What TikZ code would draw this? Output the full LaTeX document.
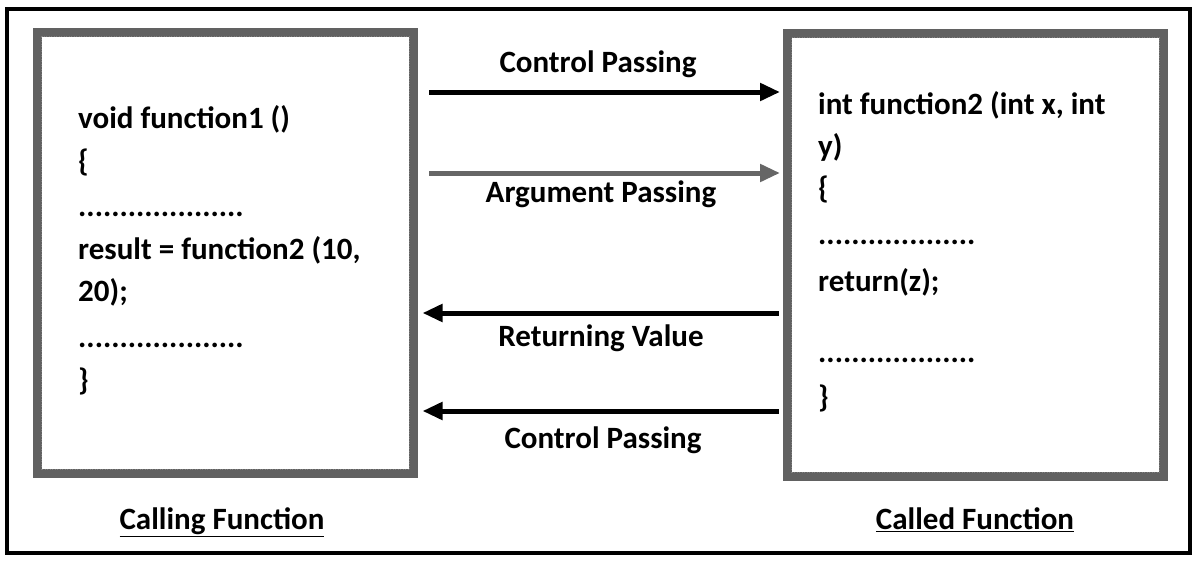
\documentclass[tikz,border=0pt]{standalone}
\usepackage{fontspec}
\setmainfont{Carlito}
\usetikzlibrary{arrows.meta}

\tikzset{
  codebox/.style={draw=black!62, line width=9pt, minimum width=376pt,
                  inner sep=0pt, fill=white},
  innerdots/.style={draw=black!50, line width=1pt, dash pattern=on 1pt off 1.5pt},
  codeline/.style={anchor=west, inner sep=0pt, text height=0.7em, text depth=0.2em,
                   font=\fontsize{31}{37}\selectfont\bfseries},
  flowlabel/.style={inner sep=0pt, text height=0.7em, text depth=0.2em,
                    font=\fontsize{31}{37}\selectfont\bfseries},
  flow/.style={line width=5pt, -{Triangle[length=20pt,width=17pt]}},
  blackflow/.style={flow, draw=black, fill=black},
  grayflow/.style={flow, draw=black!60, fill=black!60},
}

\begin{document}
\begin{tikzpicture}[x=1pt, y=-1pt]
\useasboundingbox (0,0) rectangle (1199,560);

% outer frame
\draw[line width=4pt] (7,9) rectangle (1190,553);

% the two function boxes
\node[codebox, minimum height=441pt] (caller) at (225.5,253) {};
\node[codebox, minimum height=443pt] (callee) at (975.5,255) {};

\draw[innerdots] ([xshift=8.5pt,yshift=8.5pt]caller.south west)
                 rectangle ([xshift=-8.5pt,yshift=-8.5pt]caller.north east);
\draw[innerdots] ([xshift=8.5pt,yshift=8.5pt]callee.south west)
                 rectangle ([xshift=-8.5pt,yshift=-8.5pt]callee.north east);

% code of the calling function
\node[codeline] (c1) at (78,126) {void function1 ()};
\node[codeline] (c2) at (78,169) {\{};
\node[codeline] (c3) at (78,214) {....................};
\node[codeline] (c4) at (78,257) {result = function2 (10,};
\node[codeline] (c5) at (78,299) {20);};
\node[codeline] (c6) at (78,345) {....................};
\node[codeline] (c7) at (78,388) {\}};

% code of the called function
\node[codeline] (d1) at (818,112) {int function2 (int x, int};
\node[codeline] (d2) at (818,154) {y)};
\node[codeline] (d3) at (818,196) {\{};
\node[codeline] (d4) at (818,242) {...................};
\node[codeline] (d5) at (818,289) {return(z);};
\node[codeline] (d6) at (818,360) {...................};
\node[codeline] (d7) at (818,405) {\}};

% levels of the four connectors
\coordinate (lv1) at (0,92);
\coordinate (lv2) at (0,173);
\coordinate (lv3) at (0,313);
\coordinate (lv4) at (0,411);

\draw[blackflow] ([xshift=11pt]caller.east |- lv1) -- ([xshift=-3pt]callee.west |- lv1);
\draw[grayflow]  ([xshift=11pt]caller.east |- lv2) -- ([xshift=-3pt]callee.west |- lv2);
\draw[blackflow] ([xshift=-4.5pt]callee.west |- lv3) -- ([xshift=4.5pt]caller.east |- lv3);
\draw[blackflow] ([xshift=-4.5pt]callee.west |- lv4) -- ([xshift=4.5pt]caller.east |- lv4);

% connector labels
\node[flowlabel] (l1) at (598,70)  {Control Passing};
\node[flowlabel] (l2) at (601,200) {Argument Passing};
\node[flowlabel] (l3) at (601,344) {Returning Value};
\node[flowlabel] (l4) at (603,446) {Control Passing};

% captions
\node[flowlabel] (cap1) at (222,527) {\underline{Calling Function}};
\node[flowlabel] (cap2) at (975,527) {\underline{Called Function}};
\end{tikzpicture}
\end{document}
